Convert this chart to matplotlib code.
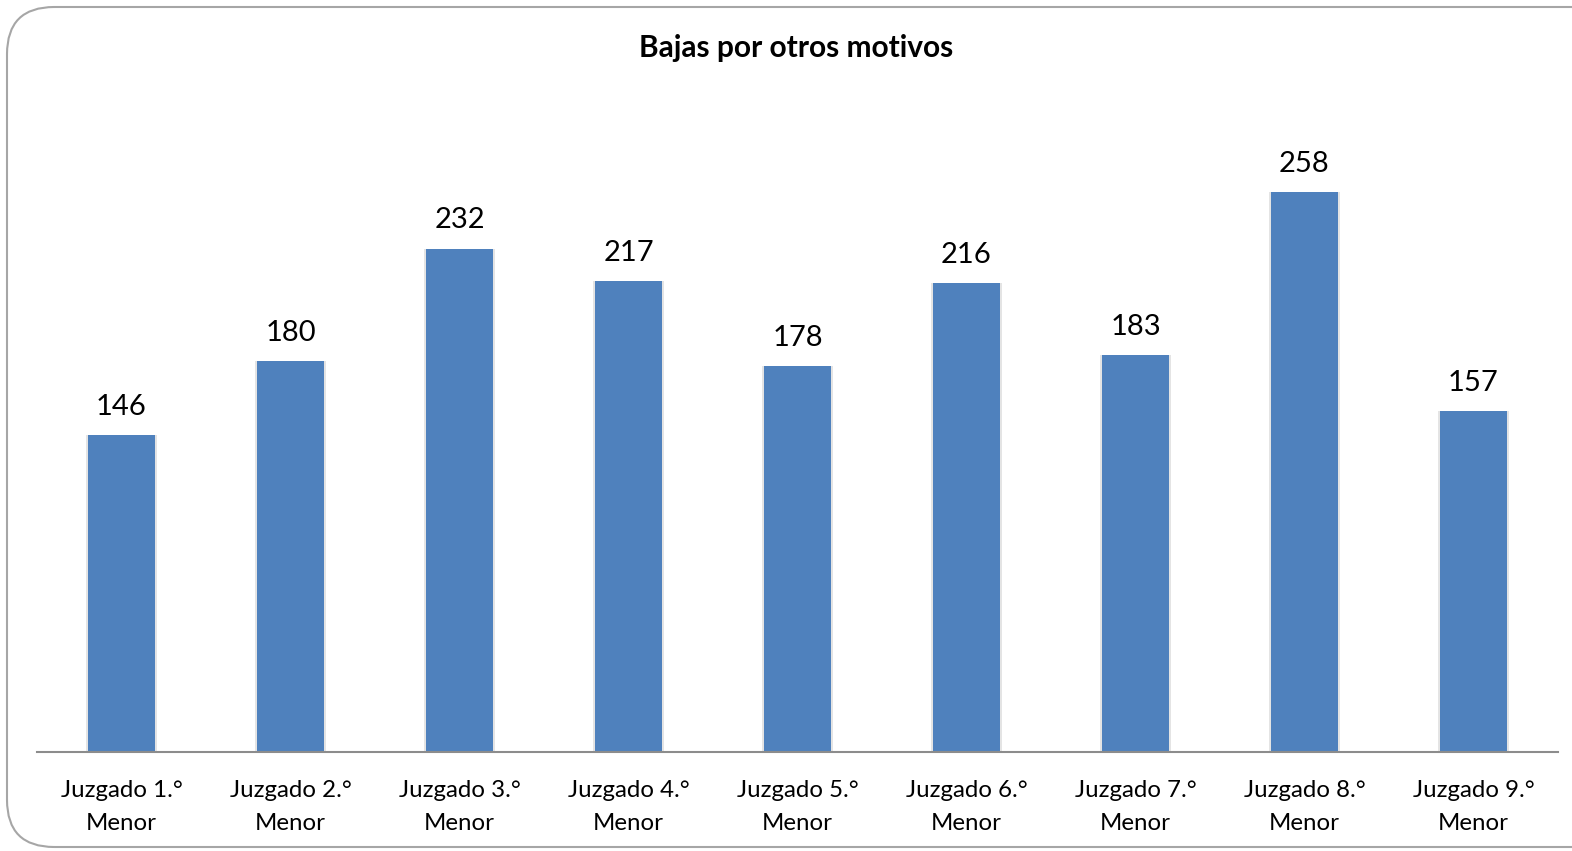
import matplotlib
matplotlib.use("Agg")
import matplotlib.pyplot as plt
from matplotlib.patches import FancyBboxPatch

categories = ["Juzgado 1.°\nMenor", "Juzgado 2.°\nMenor", "Juzgado 3.°\nMenor",
              "Juzgado 4.°\nMenor", "Juzgado 5.°\nMenor", "Juzgado 6.°\nMenor",
              "Juzgado 7.°\nMenor", "Juzgado 8.°\nMenor", "Juzgado 9.°\nMenor"]
values = [146, 180, 232, 217, 178, 216, 183, 258, 157]
title = "Bajas por otros motivos"

plt.rcParams['font.family'] = ['Lato', 'DejaVu Sans']

W, H = 1572, 851
fig = plt.figure(figsize=(W / 100, H / 100), dpi=100)

# rounded border (extends past right edge like the reference)
border = FancyBboxPatch((7 / W, 4 / H), (W + 40) / W, (H - 7 - 4) / H,
                        boxstyle="round,pad=0,rounding_size=0.03",
                        transform=fig.transFigure, fill=False,
                        edgecolor="#A6A6A6", linewidth=1.5, mutation_aspect=W / H)
fig.patches.append(border)

ax_left, ax_right = 37, 1558
ax_bottom, ax_top = 752, 101
ax = fig.add_axes([ax_left / W, 1 - ax_bottom / H, (ax_right - ax_left) / W, (ax_bottom - ax_top) / H])
ax.set_xlim(-0.5, len(values) - 0.5)
ax.set_ylim(0, 300)

x = list(range(len(values)))
# subtle shadow
ax.bar(x, values, width=0.42, color="#E4E4E4", zorder=1)
bars = ax.bar(x, values, width=0.395, color="#4F81BD", zorder=2)
for i, v in zip(x, values):
    ax.text(i, v + 7, str(v), ha="center", va="bottom", fontsize=21, color="black")

for s in ["top", "right", "left"]:
    ax.spines[s].set_visible(False)
ax.spines["bottom"].set_color("#8C8C8C")
ax.spines["bottom"].set_linewidth(1.5)
ax.set_yticks([])
ax.set_xticks(x)
ax.set_xticklabels(categories, fontsize=17.3, linespacing=1.7)
ax.tick_params(axis="x", length=0, pad=20)

fig.text(796 / W, 1 - 48 / H, title, ha="center", va="center",
         fontsize=21.5, fontweight="bold")

fig.savefig("out.png", dpi=100)
